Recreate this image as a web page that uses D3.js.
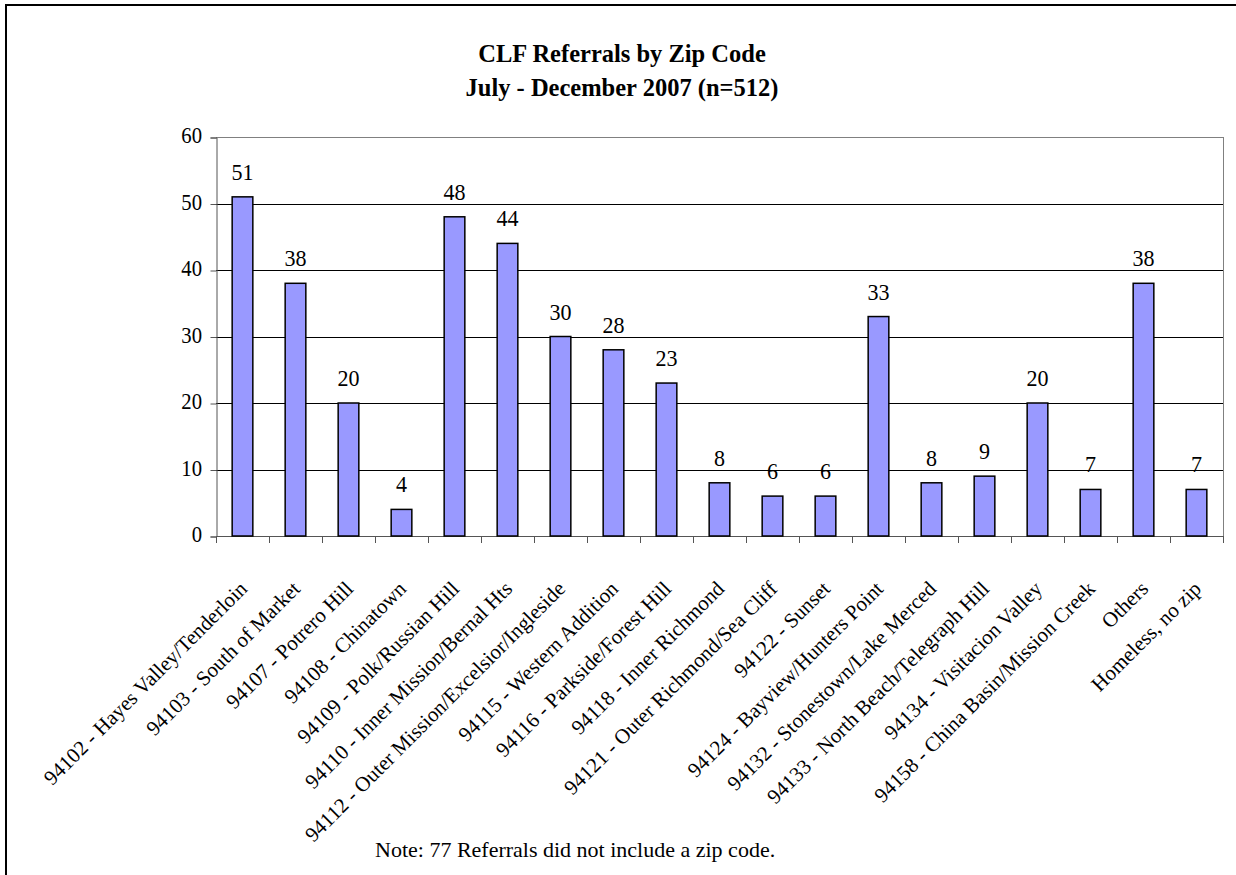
<!DOCTYPE html>
<meta charset="utf-8">
<style>
body { margin: 0; background: #fff; }
text { font-family: "Liberation Serif", "Times New Roman", serif; fill: #000; }
.title { font-weight: bold; font-size: 24.5px; text-anchor: middle; }
.ytick { font-size: 23px; text-anchor: end; dominant-baseline: central; }
.value { font-size: 24px; text-anchor: middle; }
.cat { font-size: 21px; text-anchor: end; }
.note { font-size: 22px; }
</style>
<svg width="1236" height="875"></svg>
<script src="https://d3js.org/d3.v7.min.js"></script>
<script>

var categories = [
  "94102 - Hayes Valley/Tenderloin",
  "94103 - South of Market",
  "94107 - Potrero Hill",
  "94108 - Chinatown",
  "94109 - Polk/Russian Hill",
  "94110 - Inner Mission/Bernal Hts",
  "94112 - Outer Mission/Excelsior/Ingleside",
  "94115 - Western Addition",
  "94116 - Parkside/Forest Hill",
  "94118 - Inner Richmond",
  "94121 - Outer Richmond/Sea Cliff",
  "94122 - Sunset",
  "94124 - Bayview/Hunters Point",
  "94132 - Stonestown/Lake Merced",
  "94133 - North Beach/Telegraph Hill",
  "94134 - Visitacion Valley",
  "94158 - China Basin/Mission Creek",
  "Others",
  "Homeless, no zip"
];
var referrals = [51, 38, 20, 4, 48, 44, 30, 28, 23, 8, 6, 6, 33, 8, 9, 20, 7, 38, 7];
var yTicks = [0, 10, 20, 30, 40, 50, 60];
var titleLines = ["CLF Referrals by Zip Code", "July - December 2007 (n=512)"];
var noteText = "Note: 77 Referrals did not include a zip code.";

var svg = d3.select("svg"),
    plotLeft = 216, plotRight = 1223, plotTop = 137, plotBottom = 536;

// outer frame (right and bottom edges fall outside the picture)
svg.append("rect")
    .attr("x", 6).attr("y", 5)
    .attr("width", 1240).attr("height", 880)
    .attr("fill", "none").attr("stroke", "#000").attr("stroke-width", 2);

var x = d3.scaleBand().domain(categories).range([plotLeft, plotRight]);
var y = d3.scaleLinear().domain([0, 60]).range([plotBottom, plotTop]);
var barW = x.bandwidth() * 0.39;

// gridlines
svg.append("g").selectAll("line")
  .data(yTicks.filter(function(d) { return d > 0; }))
  .enter().append("line")
    .attr("x1", plotLeft).attr("x2", plotRight)
    .attr("y1", function(d) { return Math.round(y(d)) + 0.5; })
    .attr("y2", function(d) { return Math.round(y(d)) + 0.5; })
    .attr("stroke", function(d) { return d === 60 ? "#808080" : "#000"; });

// right edge of plot area
svg.append("line")
    .attr("x1", plotRight + 0.5).attr("x2", plotRight + 0.5)
    .attr("y1", plotTop).attr("y2", plotBottom)
    .attr("stroke", "#808080");

// y axis
var yAxis = svg.append("g")
    .attr("transform", "translate(" + (plotLeft + 0.5) + ",0.5)")
    .call(d3.axisLeft(y).tickValues(yTicks).tickSize(6).tickFormat(""));
yAxis.select(".domain").attr("stroke", "#555");
yAxis.selectAll(".tick line").attr("stroke", "#555");

svg.append("g").selectAll("text")
  .data(yTicks)
  .enter().append("text")
    .attr("class", "ytick")
    .attr("transform", function(d) { return "translate(" + (plotLeft - 14) + "," + (y(d) - 1) + ") scale(0.9,1)"; })
    .text(function(d) { return d; });

// x axis line and ticks at band boundaries
var bounds = categories.map(function(c) { return x(c); }).concat([plotRight]);
svg.append("line")
    .attr("x1", plotLeft).attr("x2", plotRight)
    .attr("y1", plotBottom + 0.5).attr("y2", plotBottom + 0.5)
    .attr("stroke", "#555");
svg.append("g").selectAll("line")
  .data(bounds)
  .enter().append("line")
    .attr("x1", function(d) { return Math.round(d) + 0.5; })
    .attr("x2", function(d) { return Math.round(d) + 0.5; })
    .attr("y1", plotBottom).attr("y2", plotBottom + 7)
    .attr("stroke", "#555");

// bars
svg.append("g").selectAll("rect")
  .data(referrals)
  .enter().append("rect")
    .attr("x", function(d, i) { return x(categories[i]) + (x.bandwidth() - barW) / 2; })
    .attr("y", function(d) { return y(d); })
    .attr("width", barW)
    .attr("height", function(d) { return plotBottom - y(d); })
    .attr("fill", "#9999FF")
    .attr("stroke", "#000")
    .attr("stroke-width", 1.5);

// value labels
svg.append("g").selectAll("text")
  .data(referrals)
  .enter().append("text")
    .attr("class", "value")
    .attr("transform", function(d, i) {
      return "translate(" + (x(categories[i]) + x.bandwidth() / 2) + "," + (y(d) - 17) + ") scale(0.92,1)";
    })
    .text(function(d) { return d; });

// category labels, rotated
svg.append("g").selectAll("text")
  .data(categories)
  .enter().append("text")
    .attr("class", "cat")
    .attr("transform", function(d) {
      return "translate(" + (x(d) + x.bandwidth() / 2 + 6) + "," + (plotBottom + 54) + ") rotate(-45)";
    })
    .text(function(d) { return d; });

// title
svg.append("g").selectAll("text")
  .data(titleLines)
  .enter().append("text")
    .attr("class", "title")
    .attr("x", 622)
    .attr("y", function(d, i) { return 62 + i * 34; })
    .text(function(d) { return d; });

svg.append("text")
    .attr("class", "note")
    .attr("x", 375).attr("y", 857)
    .text(noteText);

</script>
